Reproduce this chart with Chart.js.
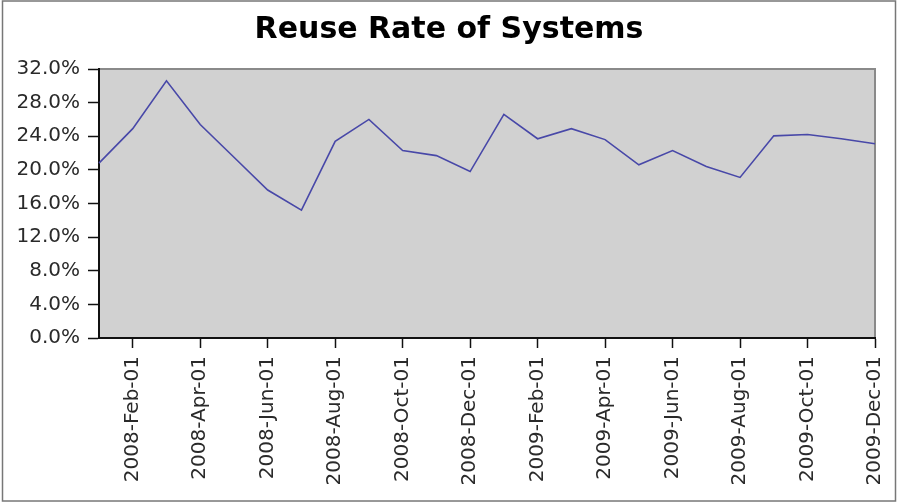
<!DOCTYPE html>
<html>
<head>
<meta charset="utf-8">
<script src="https://cdn.jsdelivr.net/npm/chart.js@4"></script>
<style>
  html, body { margin: 0; padding: 0; background: #fff; }
  #wrap { width: 898px; height: 504px; }
</style>
</head>
<body>
<div id="wrap"><canvas id="c" width="898" height="504"></canvas></div>
<script>
// ---- data ----
const chartTitle = "Reuse Rate of Systems";
const months = [
  "2008-Jan-01","2008-Feb-01","2008-Mar-01","2008-Apr-01","2008-May-01","2008-Jun-01",
  "2008-Jul-01","2008-Aug-01","2008-Sep-01","2008-Oct-01","2008-Nov-01","2008-Dec-01",
  "2009-Jan-01","2009-Feb-01","2009-Mar-01","2009-Apr-01","2009-May-01","2009-Jun-01",
  "2009-Jul-01","2009-Aug-01","2009-Sep-01","2009-Oct-01","2009-Nov-01","2009-Dec-01"
];
const reuseRate = [
  20.8, 24.9, 30.6, 25.4, 21.5, 17.6,
  15.2, 23.4, 26.0, 22.3, 21.7, 19.8,
  26.6, 23.7, 24.9, 23.6, 20.6, 22.3,
  20.4, 19.1, 24.05, 24.2, 23.7, 23.1
];
const yMin = 0, yMax = 32, yStep = 2, yLabelEvery = 4;

const FONT = "'DejaVu Sans', 'Bitstream Vera Sans', sans-serif";

const frame = {
  id: 'frame',
  beforeDraw(chart) {
    const ctx = chart.ctx, a = chart.chartArea;
    ctx.save();
    ctx.fillStyle = '#ffffff';
    ctx.fillRect(0, 0, chart.width, chart.height);
    ctx.fillStyle = '#d1d1d1';
    ctx.fillRect(a.left, a.top, a.right - a.left, a.bottom - a.top);
    ctx.strokeStyle = '#8a8a8a';
    ctx.lineWidth = 2;
    ctx.strokeRect(a.left, a.top, a.right - a.left, a.bottom - a.top);
    ctx.strokeStyle = '#777777';
    ctx.lineWidth = 1.5;
    ctx.strokeRect(2.5, 1, 893, 500);
    ctx.restore();
  }
};

new Chart(document.getElementById('c'), {
  type: 'line',
  data: {
    labels: months,
    datasets: [{
      data: reuseRate,
      borderColor: '#4848a8',
      borderWidth: 1.6,
      pointRadius: 0,
      tension: 0,
      fill: false
    }]
  },
  options: {
    responsive: false,
    animation: false,
    devicePixelRatio: 1,
    layout: { padding: 0 },
    plugins: {
      legend: { display: false },
      tooltip: { enabled: false },
      title: {
        display: true,
        text: chartTitle,
        color: '#000',
        font: { family: FONT, size: 30, weight: 'bold' },
        padding: { top: 12, bottom: 21 }
      }
    },
    scales: {
      x: {
        type: 'category',
        offset: false,
        afterFit(scale) { scale.height = 166; scale.paddingLeft = 0; scale.paddingRight = 23; },
        grid: {
          display: true,
          drawOnChartArea: false,
          drawTicks: true,
          tickLength: 10,
          tickWidth: 1.5,
          tickColor: '#111'
        },
        border: { display: true, color: '#111', width: 2 },
        ticks: {
          autoSkip: false,
          minRotation: 90,
          maxRotation: 90,
          padding: 8,
          color: '#2a2a2a',
          font: { family: FONT, size: 20 },
          callback(val, i) { return (i % 2 === 1) ? months[i] : null; }
        }
      },
      y: {
        min: yMin,
        max: yMax,
        afterFit(scale) { scale.width = 99; },
        grid: {
          display: true,
          drawOnChartArea: false,
          drawTicks: true,
          tickLength: 11,
          tickWidth: 1.5,
          tickColor: '#111'
        },
        border: { display: true, color: '#111', width: 2 },
        ticks: {
          stepSize: yStep,
          padding: 8,
          color: '#2a2a2a',
          font: { family: FONT, size: 20 },
          callback(v) { return (v % yLabelEvery === 0) ? v.toFixed(1) + '%' : ''; }
        }
      }
    }
  },
  plugins: [frame]
});
</script>
</body>
</html>
